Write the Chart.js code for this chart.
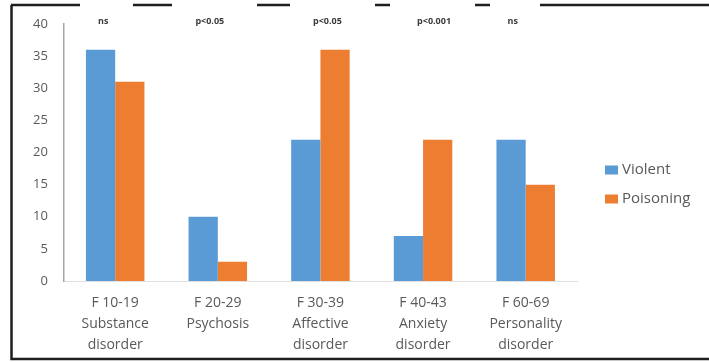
<!DOCTYPE html>
<html>
<head>
<meta charset="utf-8">
<script src="https://cdn.jsdelivr.net/npm/chart.js@4"></script>
<style>
html,body{margin:0;padding:0;background:#fff;}
#wrap{width:709px;height:362px;position:relative;}
</style>
</head>
<body>
<div id="wrap"><canvas id="c" width="709" height="362"></canvas></div>
<script>
const categories = [
  ["F 10-19", "Substance", "disorder"],
  ["F 20-29", "Psychosis"],
  ["F 30-39", "Affective", "disorder"],
  ["F 40-43", "Anxiety", "disorder"],
  ["F 60-69", "Personality", "disorder"]
];
const violent = [36, 10, 22, 7, 22];
const poisoning = [31, 3, 36, 22, 15];
const pValues = ["ns", "p<0.05", "p<0.05", "p<0.001", "ns"];
const pOffsets = [-12, -8, 7, 11, -13];
const yTicks = [0, 5, 10, 15, 20, 25, 30, 35, 40];

const FONT = "'Open Sans', 'Liberation Sans', sans-serif";

const framePlugin = {
  id: 'frame',
  afterDraw(chart) {
    const ctx = chart.ctx;
    ctx.save();
    ctx.strokeStyle = '#1e1e1e';
    ctx.lineWidth = 2.5;
    ctx.beginPath();
    ctx.moveTo(11.5, 5); ctx.lineTo(11.5, 359);
    ctx.lineTo(709, 359);
    const segs = [[11, 80], [133, 172], [257, 290], [375, 390], [475, 490], [540, 709]];
    segs.forEach(s => { ctx.moveTo(s[0], 5); ctx.lineTo(s[1], 5); });
    ctx.stroke();
    ctx.restore();
  }
};

const annotPlugin = {
  id: 'annot',
  afterDraw(chart) {
    const ctx = chart.ctx;
    const xs = chart.scales.x;
    ctx.save();
    ctx.font = "bold 9px " + FONT;
    ctx.fillStyle = '#3a3a3a';
    ctx.textAlign = 'center';
    ctx.textBaseline = 'middle';
    pValues.forEach((t, i) => {
      ctx.fillText(t, xs.getPixelForValue(i) + pOffsets[i], 21);
    });
    ctx.restore();
  }
};

const legendPlugin = {
  id: 'customLegend',
  afterDraw(chart) {
    const ctx = chart.ctx;
    ctx.save();
    ctx.font = "15px " + FONT;
    ctx.textBaseline = 'middle';
    chart.data.datasets.forEach((ds, i) => {
      const y = 170 + i * 29;
      ctx.fillStyle = ds.backgroundColor;
      ctx.fillRect(605, y - 4.5, 13, 9);
      ctx.fillStyle = '#595959';
      ctx.fillText(ds.label, 622, y);
    });
    ctx.restore();
  }
};

new Chart(document.getElementById('c'), {
  type: 'bar',
  data: {
    labels: categories,
    datasets: [
      { label: 'Violent', data: violent, backgroundColor: '#5B9BD5' },
      { label: 'Poisoning', data: poisoning, backgroundColor: '#ED7D31' }
    ]
  },
  options: {
    responsive: false,
    animation: false,
    categoryPercentage: 0.57,
    barPercentage: 1.0,
    layout: { padding: { top: 24, left: 17, right: 132, bottom: -6 } },
    plugins: {
      legend: { display: false },
      tooltip: { enabled: false }
    },
    scales: {
      x: {
        grid: { display: false, drawTicks: false },
        border: { display: true, color: '#e0e0e0', width: 1 },
        ticks: {
          color: '#595959',
          font: { family: FONT, size: 14, lineHeight: 1.5 },
          padding: 12,
          maxRotation: 0,
          autoSkip: false
        }
      },
      y: {
        min: 0, max: 40,
        afterBuildTicks(axis) { axis.ticks = yTicks.map(v => ({ value: v })); },
        grid: { display: false, drawTicks: false },
        border: { display: true, color: '#a6a6a6', width: 1.5 },
        ticks: {
          color: '#595959',
          font: { family: FONT, size: 13 },
          padding: 16
        }
      }
    }
  },
  plugins: [framePlugin, annotPlugin, legendPlugin]
});
</script>
</body>
</html>
